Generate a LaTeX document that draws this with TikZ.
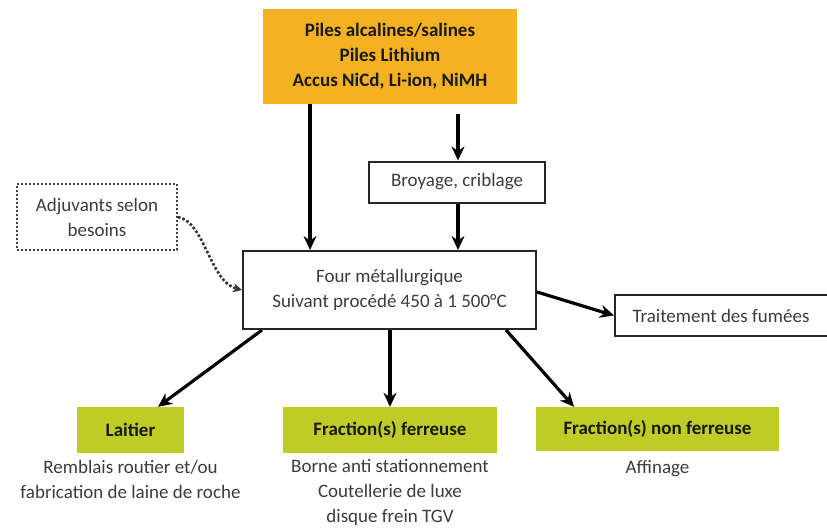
\documentclass[tikz,border=0pt]{standalone}
\usepackage{fontspec}
\setmainfont{Carlito}
\usetikzlibrary{arrows.meta}
\definecolor{orangebox}{RGB}{244,178,35}
\definecolor{greenbox}{RGB}{192,204,38}
\definecolor{txtgray}{RGB}{60,60,60}
\definecolor{txtdark}{RGB}{25,25,25}
\tikzset{
  whitebox/.style={draw=black!85, line width=2pt, fill=white, text=txtgray, inner sep=0pt, align=center, font=\fontsize{19}{25}\selectfont},
  orangenode/.style={fill=orangebox, text=txtdark, inner sep=0pt, align=center, font=\fontsize{19}{25}\selectfont\bfseries},
  greennode/.style={fill=greenbox, text=txtdark, inner sep=0pt, align=center, font=\fontsize{19}{22}\selectfont\bfseries},
  desc/.style={text=txtgray, inner sep=0pt, align=center, font=\fontsize{19}{25}\selectfont},
  arr/.style={draw=black, line width=3.2pt, -{Stealth[length=14pt,width=13pt]}},
  dotarr/.style={draw=black!80, line width=2.6pt, dotted, -{Stealth[length=9pt,width=9pt]}}
}
\begin{document}
\begin{tikzpicture}[x=1pt,y=-1pt]
\clip (0,0) rectangle (827,531);
\fill[white] (0,0) rectangle (827,531);
\node[orangenode, minimum width=254pt, minimum height=95pt] (src) at (390,56) {Piles alcalines/salines\\Piles Lithium\\Accus NiCd, Li-ion, NiMH};
\node[whitebox, minimum width=176pt, minimum height=41pt] (broy) at (457,182) {Broyage, criblage};
\node[whitebox, draw=black!75, dotted, line width=2pt, minimum width=160pt, minimum height=66pt] (adj) at (97,217) {Adjuvants selon\\besoins};
\node[whitebox, minimum width=293pt, minimum height=78pt] (four) at (389.5,290) {Four métallurgique\\Suivant procédé 450 à 1 500°C};
\node[whitebox, minimum width=220pt, minimum height=41pt, anchor=west] (trait) at (614,315.5) {\hspace*{-4pt}Traitement des fumées\hspace*{4pt}};
\node[greennode, minimum width=107pt, minimum height=46pt] (lait) at (130.5,430) {Laitier};
\node[greennode, minimum width=214pt, minimum height=46pt] (ferr) at (390,430) {Fraction(s) ferreuse};
\node[greennode, minimum width=243pt, minimum height=44pt] (nonf) at (657.5,429) {Fraction(s) non ferreuse};
\node[desc, anchor=north] (laitd) at (lait.south) [yshift=-7pt] {Remblais routier et/ou\\fabrication de laine de roche};
\node[desc, anchor=north] (ferrd) at (ferr.south) [yshift=-6pt] {Borne anti stationnement\\Coutellerie de luxe\\disque frein TGV};
\node[desc, anchor=north] (nonfd) at (nonf.south) [yshift=-9pt] {Affinage};
\draw[arr] (src.south -| 310,0) -- (four.north -| 310,0);
\draw[arr, shorten <=10pt] (src.south -| 458,0) -- (broy.north -| 458,0);
\draw[arr] (broy.south -| 458,0) -- (four.north -| 458,0);
\draw[dotarr] (adj.east) .. controls (205,222) and (210,282) .. (four.west);
\draw[arr] (four.east |- 0,292) -- (trait.west);
\draw[arr] (four.south -| 262,0) -- (lait.north -| 158,0);
\draw[arr] (four.south -| 390,0) -- (ferr.north);
\draw[arr] (four.south -| 506,0) -- (nonf.north -| 574,0);
\end{tikzpicture}
\end{document}
